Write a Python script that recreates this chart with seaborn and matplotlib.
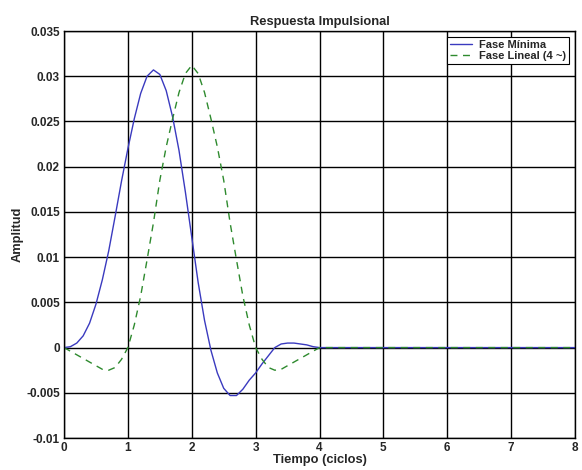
import matplotlib
matplotlib.use('Agg')
import numpy as np
import pandas as pd
import matplotlib.pyplot as plt
import seaborn as sns

tiempo = np.arange(0, 81) / 10

fase_minima = [
    0.0, 0.0001, 0.0005, 0.0013, 0.0027, 0.0048, 0.0075, 0.0107, 0.0145, 0.0184,
    0.0220, 0.0253, 0.0281, 0.0300, 0.0307, 0.0302, 0.0284, 0.0255, 0.0218, 0.0172,
    0.0122, 0.0072, 0.0030, -0.0003, -0.0028, -0.0045, -0.0053, -0.0053, -0.0046, -0.0036,
    -0.0028, -0.0018, -0.0009, 0.0, 0.0004, 0.0005, 0.0005, 0.0004, 0.0003, 0.0001,
    0.0,
] + [0.0] * 40

fase_lineal = [
    0.0, -0.0004, -0.0008, -0.0012, -0.0016, -0.0020, -0.0024, -0.0025, -0.0022, -0.0013,
    0.0, 0.0025, 0.0057, 0.0097, 0.0138, 0.0185, 0.0222, 0.0253, 0.0282, 0.0303,
    0.0312, 0.0303, 0.0282, 0.0253, 0.0222, 0.0185, 0.0138, 0.0097, 0.0057, 0.0025,
    0.0, -0.0013, -0.0022, -0.0025, -0.0024, -0.0020, -0.0016, -0.0012, -0.0008, -0.0004,
    0.0,
] + [0.0] * 40

y_ticks = [-0.01, -0.005, 0, 0.005, 0.01, 0.015, 0.02, 0.025, 0.03, 0.035]
y_labels = ['-0.01', '-0.005', '0', '0.005', '0.01', '0.015', '0.02', '0.025', '0.03', '0.035']
x_ticks = [0, 1, 2, 3, 4, 5, 6, 7, 8]

sns.set_style('white')
plt.rcParams['font.family'] = ['Liberation Sans', 'DejaVu Sans']
plt.rcParams['font.weight'] = 'bold'

df = pd.DataFrame({'t': tiempo, 'min': fase_minima, 'lin': fase_lineal})

fig = plt.figure(figsize=(5.82, 4.70), dpi=100)
ax = fig.add_axes([0.110, 0.068, 0.878, 0.866])

sns.lineplot(data=df, x='t', y='min', ax=ax, color='#3a3abf', linewidth=1.0,
             label='Fase Mínima')
sns.lineplot(data=df, x='t', y='lin', ax=ax, color='#2e8a2e', linewidth=1.0,
             linestyle=(0, (5, 4)), label='Fase Lineal (4 ~)')

ax.set_xlim(0, 8)
ax.set_ylim(-0.01, 0.035)
ax.set_xticks(x_ticks)
ax.set_xticklabels([str(v) for v in x_ticks])
ax.set_yticks(y_ticks)
ax.set_yticklabels(y_labels)
ax.tick_params(axis='both', labelsize=8.5, length=0, pad=3)
for lab in ax.get_xticklabels() + ax.get_yticklabels():
    lab.set_fontweight('bold')

ax.set_axisbelow(True)
ax.grid(True, color='black', linewidth=1.0, linestyle='-')
for sp in ax.spines.values():
    sp.set_color('black')
    sp.set_linewidth(1.0)

ax.set_title('Respuesta Impulsional', fontsize=9.3, fontweight='bold', pad=4)
ax.set_xlabel('Tiempo (ciclos)', fontsize=9.3, fontweight='bold', labelpad=0)
ax.set_ylabel('Amplitud', fontsize=9.3, fontweight='bold', labelpad=2)

leg = ax.legend(loc='upper right', fontsize=8, frameon=True, fancybox=False,
                handlelength=2.0, handletextpad=0.6, borderpad=0.3, labelspacing=0.1,
                borderaxespad=0.5, framealpha=1)
leg.get_frame().set_edgecolor('black')
leg.get_frame().set_linewidth(0.8)
for t in leg.get_texts():
    t.set_fontweight('bold')

fig.savefig('out.png', dpi=100)
